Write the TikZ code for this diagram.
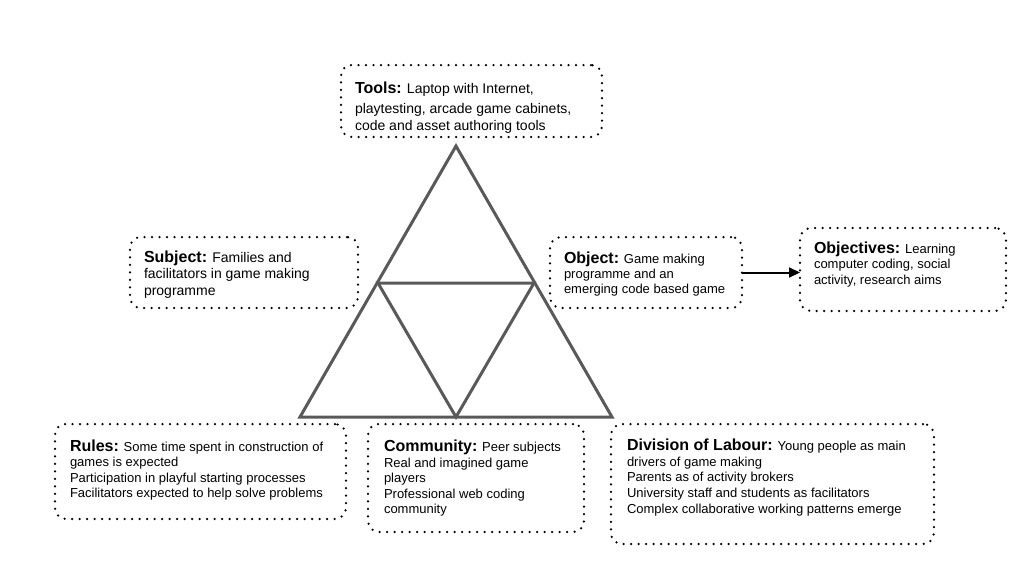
\documentclass[tikz,border=0pt]{standalone}
\usepackage{fontspec}
\setmainfont{Liberation Sans}
\usetikzlibrary{arrows.meta}
\newlength{\du}
\setlength{\du}{15\unitlength}
\definecolor{dialinecolor}{rgb}{0.350000, 0.350000, 0.350000}
\tikzset{
  notebox/.style={draw=black, line width=0.125000\du, dash pattern=on 0pt off 0.375000\du,
    line cap=round, rounded corners=0.550000\du, anchor=north west,
    inner sep=0pt, outer sep=0pt},
  boxtext/.style={align=left, anchor=north west, inner sep=0pt, outer sep=0pt,
    font=\fontsize{9.75}{11.6}\selectfont},
  bigtext/.style={font=\fontsize{10.5}{12.5}\selectfont},
  triline/.style={draw=dialinecolor, line width=0.150000\du, line join=miter},
  conn/.style={draw=black, line width=0.100000\du, -{Triangle[length=8.25pt,width=7.5pt]}},
}
\newcommand{\boxhead}[1]{{\fontsize{12}{14}\selectfont\bfseries #1}}
\begin{document}
\begin{tikzpicture}
\pgftransformxscale{1.000000}
\pgftransformyscale{-1.000000}
\useasboundingbox (0\du,0\du) rectangle (51.800000\du,29.150000\du);
% triangle
\coordinate (apex) at (22.800000\du,7.300000\du);
\coordinate (baseleft) at (15.000000\du,20.850000\du);
\coordinate (baseright) at (30.600000\du,20.850000\du);
\coordinate (midleft) at (18.900000\du,14.150000\du);
\coordinate (midright) at (26.700000\du,14.150000\du);
\coordinate (midbase) at (22.800000\du,20.850000\du);
\draw[triline] (apex)--(baseright)--(baseleft)--cycle;
\draw[triline] (midleft)--(midright)--(midbase)--cycle;
% boxes
\node[notebox, minimum width=13.050000\du, minimum height=3.600000\du] (tools) at (17.050000\du,3.250000\du) {};
\node[notebox, minimum width=11.400000\du, minimum height=3.550000\du] (subject) at (6.500000\du,11.850000\du) {};
\node[notebox, minimum width=9.600000\du, minimum height=3.550000\du] (object) at (27.500000\du,11.850000\du) {};
\node[notebox, minimum width=10.300000\du, minimum height=4.150000\du] (objectives) at (40.000000\du,11.400000\du) {};
\node[notebox, minimum width=14.550000\du, minimum height=4.750000\du] (rules) at (2.750000\du,21.200000\du) {};
\node[notebox, minimum width=10.800000\du, minimum height=5.400000\du] (community) at (18.400000\du,21.200000\du) {};
\node[notebox, minimum width=16.150000\du, minimum height=6.000000\du] (division) at (30.550000\du,21.200000\du) {};
% setfont left to latex
\node[boxtext, bigtext] (tools text) at ([shift={(0.700000\du,0.850000\du)}]tools.north west)
  {\boxhead{Tools:} Laptop with Internet,\\[2.5pt]playtesting, arcade game cabinets,\\code and asset authoring tools};
\node[boxtext, bigtext] (subject text) at ([shift={(0.700000\du,0.680000\du)}]subject.north west)
  {\boxhead{Subject:} Families and\\facilitators in game making\\programme};
\node[boxtext] (object text) at ([shift={(0.700000\du,0.720000\du)}]object.north west)
  {\boxhead{Object:} Game making\\programme and an\\emerging code based game};
\node[boxtext] (objectives text) at ([shift={(0.700000\du,0.680000\du)}]objectives.north west)
  {\boxhead{Objectives:} Learning\\computer coding, social\\activity, research aims};
\node[boxtext] (rules text) at ([shift={(0.750000\du,0.780000\du)}]rules.north west)
  {\boxhead{Rules:} Some time spent in construction of\\games is expected\\Participation in playful starting processes\\Facilitators expected to help solve problems};
\node[boxtext] (community text) at ([shift={(0.800000\du,0.800000\du)}]community.north west)
  {\boxhead{Community:} Peer subjects\\Real and imagined game\\players\\Professional web coding\\community};
\node[boxtext, font=\fontsize{9.75}{11.75}\selectfont] (division text) at ([shift={(0.800000\du,0.750000\du)}]division.north west)
  {\boxhead{Division of Labour:} Young people as main\\drivers of game making\\Parents as of activity brokers\\University staff and students as facilitators\\Complex collaborative working patterns emerge};
% object to objectives
\draw[conn] (object.east)--(object.east -| objectives.west);
\end{tikzpicture}
\end{document}
